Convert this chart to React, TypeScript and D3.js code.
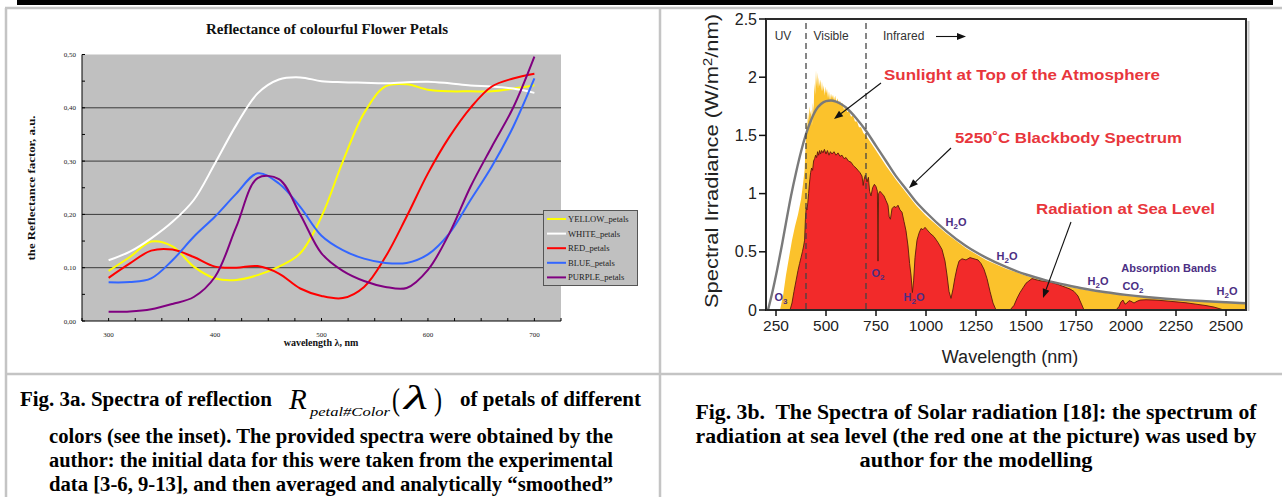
import React from "react";
import * as d3 from "d3";

// ---- Fig. 3a : reflectance of flower petals ----
const petalWavelengths = [300, 320, 340, 360, 380, 400, 420, 440, 460, 480, 500, 520, 540, 560, 580, 600, 620, 640, 660, 680, 700];
const yellowPetals = [0.094, 0.12, 0.149, 0.14, 0.102, 0.08, 0.077, 0.086, 0.102, 0.127, 0.196, 0.299, 0.39, 0.44, 0.444, 0.434, 0.431, 0.431, 0.431, 0.436, 0.4425];
const whitePetals = [0.114, 0.13, 0.155, 0.186, 0.227, 0.296, 0.368, 0.427, 0.453, 0.457, 0.45, 0.448, 0.447, 0.446, 0.448, 0.449, 0.446, 0.442, 0.44, 0.436, 0.428];
const redPetals = [0.081, 0.108, 0.132, 0.134, 0.12, 0.102, 0.1, 0.103, 0.089, 0.061, 0.047, 0.043, 0.064, 0.12, 0.196, 0.277, 0.345, 0.4, 0.44, 0.455, 0.464];
const bluePetals = [0.0725, 0.073, 0.08, 0.114, 0.158, 0.196, 0.239, 0.277, 0.258, 0.214, 0.16, 0.133, 0.117, 0.109, 0.109, 0.125, 0.164, 0.227, 0.29, 0.364, 0.455];
const purplePetals = [0.0175, 0.018, 0.022, 0.032, 0.045, 0.083, 0.177, 0.268, 0.266, 0.2, 0.127, 0.094, 0.075, 0.064, 0.062, 0.096, 0.164, 0.252, 0.327, 0.4, 0.496];
const petalNames = ["YELLOW_petals", "WHITE_petals", "RED_petals", "BLUE_petals", "PURPLE_petals"];
const petalXLabels = [300, 400, 500, 600, 700];
const petalYLabels = [0, 0.1, 0.2, 0.3, 0.4, 0.5];

// ---- Fig. 3b : solar spectrum ----
const toaWavelengths = [270, 285, 300, 315, 330, 345, 360, 375, 385, 393, 398, 402, 406, 410, 414, 418, 422, 426, 430, 434, 438, 442, 446, 450, 453, 456, 460, 464, 468, 472, 476, 480, 484, 488, 492, 496, 500, 505, 510, 515, 520, 525, 530, 535, 540, 546, 552, 558, 564, 570, 576, 582, 590, 598, 606, 615, 625, 635, 645, 655, 665, 675, 687, 700, 750, 800, 850, 900, 950, 1000, 1100, 1200, 1300, 1400, 1500, 1600, 1700, 1800, 1900, 2000, 2100, 2200, 2300, 2400, 2500, 2600];
const toaIrradiance = [0, 0.12, 0.3, 0.45, 0.6, 0.72, 0.82, 0.95, 1.08, 1.2, 1.42, 1.62, 1.55, 1.7, 1.62, 1.75, 1.68, 1.72, 1.58, 1.78, 1.7, 1.95, 1.85, 2.06, 1.92, 2.04, 1.9, 2.0, 1.92, 1.98, 1.88, 1.96, 1.88, 1.93, 1.84, 1.92, 1.86, 1.9, 1.82, 1.88, 1.8, 1.86, 1.82, 1.85, 1.8, 1.84, 1.78, 1.82, 1.77, 1.8, 1.76, 1.78, 1.72, 1.75, 1.7, 1.71, 1.66, 1.67, 1.62, 1.62, 1.57, 1.57, 1.52, 1.5, 1.37, 1.24, 1.12, 1.01, 0.9, 0.81, 0.66, 0.53, 0.43, 0.355, 0.295, 0.245, 0.205, 0.172, 0.145, 0.124, 0.107, 0.093, 0.081, 0.072, 0.063, 0.056];
const bbWavelengths = [210, 230, 255, 280, 300, 325, 350, 375, 400, 425, 450, 475, 500, 525, 550, 575, 600, 650, 700, 750, 800, 850, 900, 950, 1000, 1100, 1200, 1300, 1400, 1500, 1600, 1700, 1800, 1900, 2000, 2100, 2200, 2300, 2400, 2500, 2600];
const bbIrradiance = [0, 0.14, 0.34, 0.56, 0.75, 0.98, 1.18, 1.36, 1.51, 1.63, 1.72, 1.77, 1.795, 1.8, 1.79, 1.77, 1.74, 1.65, 1.54, 1.41, 1.28, 1.15, 1.04, 0.93, 0.84, 0.68, 0.55, 0.45, 0.37, 0.305, 0.255, 0.215, 0.18, 0.152, 0.13, 0.112, 0.097, 0.085, 0.075, 0.066, 0.058];
const seaWavelengths = [320, 330, 340, 350, 360, 368, 375, 382, 388, 393, 397, 401, 405, 409, 413, 418, 423, 428, 433, 438, 443, 448, 453, 458, 463, 468, 473, 478, 485, 492, 500, 507, 515, 522, 530, 540, 550, 560, 570, 580, 590, 600, 612, 625, 637, 650, 660, 670, 680, 686, 690, 697, 705, 712, 718, 725, 733, 742, 750, 757, 760, 763, 770, 780, 790, 800, 810, 816, 822, 830, 840, 850, 860, 870, 880, 890, 900, 910, 918, 925, 932, 938, 945, 955, 965, 975, 985, 995, 1005, 1020, 1040, 1060, 1080, 1095, 1105, 1115, 1125, 1135, 1145, 1155, 1165, 1180, 1200, 1220, 1240, 1260, 1275, 1290, 1305, 1320, 1335, 1350, 1420, 1440, 1455, 1470, 1485, 1500, 1515, 1530, 1550, 1575, 1600, 1630, 1660, 1690, 1720, 1740, 1760, 1775, 1790, 1950, 1965, 1975, 1985, 1995, 2005, 2015, 2025, 2040, 2055, 2070, 2100, 2150, 2200, 2250, 2300, 2350, 2400, 2440, 2470, 2490];
const seaIrradiance = [0, 0.06, 0.16, 0.25, 0.34, 0.4, 0.45, 0.5, 0.55, 0.6, 0.78, 0.88, 0.86, 0.92, 1.0, 1.1, 1.18, 1.22, 1.2, 1.28, 1.3, 1.33, 1.31, 1.36, 1.33, 1.37, 1.34, 1.37, 1.35, 1.38, 1.34, 1.37, 1.33, 1.36, 1.34, 1.36, 1.33, 1.35, 1.32, 1.33, 1.3, 1.31, 1.28, 1.27, 1.24, 1.22, 1.2, 1.18, 1.15, 1.07, 1.12, 1.16, 1.1, 1.14, 1.02, 0.98, 1.05, 1.08, 1.06, 1.02, 0.42, 1.0, 1.02, 1.0, 0.98, 0.94, 0.9, 0.8, 0.78, 0.87, 0.89, 0.88, 0.9, 0.86, 0.84, 0.76, 0.68, 0.55, 0.4, 0.3, 0.15, 0.25, 0.45, 0.6, 0.66, 0.7, 0.69, 0.71, 0.69, 0.66, 0.63, 0.58, 0.52, 0.42, 0.3, 0.16, 0.1, 0.18, 0.28, 0.36, 0.42, 0.44, 0.43, 0.45, 0.44, 0.43, 0.4, 0.35, 0.27, 0.16, 0.06, 0, 0, 0.04, 0.1, 0.15, 0.19, 0.23, 0.25, 0.27, 0.26, 0.25, 0.245, 0.235, 0.22, 0.2, 0.18, 0.16, 0.12, 0.06, 0, 0, 0.03, 0.07, 0.085, 0.05, 0.06, 0.08, 0.075, 0.06, 0.075, 0.085, 0.088, 0.085, 0.078, 0.07, 0.062, 0.05, 0.038, 0.025, 0.01, 0];
const irradianceTicks = [0, 0.5, 1, 1.5, 2, 2.5];
const wavelengthTicks = [250, 500, 750, 1000, 1250, 1500, 1750, 2000, 2250, 2500];
const bandBounds = [400, 700];

const captionLeft = [
  "colors (see the inset). The provided spectra were obtained by the",
  "author: the initial data for this were taken from the experimental",
  "data [3-6, 9-13], and then averaged and analytically \u201csmoothed\u201d",
];
const captionRight = [
  "Fig. 3b.\u00a0 The Spectra of Solar radiation [18]: the spectrum of",
  "radiation at sea level (the red one at the picture) was used by",
  "author for the modelling",
];

const petalColors = ["#ffff00", "#ffffff", "#ff0000", "#3366ff", "#800080"];
const serif = "'Liberation Serif', 'Times New Roman', serif";
const sans = "'Liberation Sans', Arial, sans-serif";
const purpleLabel = "#4b2e83";
const redLabel = "#e8363c";

const Chem = ({ x, y, a, sub, b }) => (
  <text x={x} y={y} fill={purpleLabel} fontFamily={sans} fontWeight="bold" fontSize={11} textAnchor="middle">
    {a}
    <tspan dy={3} fontSize={8}>{sub}</tspan>
    <tspan dy={-3}>{b}</tspan>
  </text>
);

const Arrow = ({ x1, y1, x2, y2 }) => {
  const ang = Math.atan2(y2 - y1, x2 - x1);
  const L = 9, W = 3.5;
  const bx = x2 - L * Math.cos(ang), by = y2 - L * Math.sin(ang);
  const p = `${x2},${y2} ${bx + W * Math.sin(ang)},${by - W * Math.cos(ang)} ${bx - W * Math.sin(ang)},${by + W * Math.cos(ang)}`;
  return (
    <g>
      <line x1={x1} y1={y1} x2={bx} y2={by} stroke="#111" strokeWidth={1.1} />
      <polygon points={p} fill="#111" />
    </g>
  );
};

export default function App() {
  // left chart scales
  const px = d3.scaleLinear().domain([275, 725]).range([82, 561]);
  const py = d3.scaleLinear().domain([0, 0.5]).range([321, 54.5]);
  const petalLine = d3
    .line<number>()
    .x((_, i) => px(petalWavelengths[i]))
    .y((d) => py(d))
    .curve(d3.curveCatmullRom.alpha(0.5));
  const petalSeries = [yellowPetals, whitePetals, redPetals, bluePetals, purplePetals];
  const commaFmt = (v: number) => d3.format(".2f")(v).replace(".", ",");

  // right chart scales
  const sx = d3.scaleLinear().domain([200, 2600]).range([766, 1246]);
  const sy = d3.scaleLinear().domain([0, 2.5]).range([310, 19]);
  const toaArea = d3
    .area<number>()
    .x((_, i) => sx(toaWavelengths[i]))
    .y0(sy(0))
    .y1((d) => sy(d));
  const seaArea = d3
    .area<number>()
    .x((_, i) => sx(seaWavelengths[i]))
    .y0(sy(0))
    .y1((d) => sy(d));
  const seaEdge = d3
    .line<number>()
    .x((_, i) => sx(seaWavelengths[i]))
    .y((d) => sy(d));
  const bbLine = d3
    .line<number>()
    .x((_, i) => sx(bbWavelengths[i]))
    .y((d) => sy(d))
    .curve(d3.curveMonotoneX);

  return (
    <svg width={1282} height={497} style={{ position: "absolute", left: 0, top: 0, background: "#fff" }}>
      {/* table frame */}
      <rect x={17} y={0} width={1256} height={5} fill="#000" />
      <g stroke="#c4c4c4" strokeWidth={2.5}>
        <line x1={5} y1={8} x2={1282} y2={8} />
        <line x1={6} y1={8} x2={6} y2={497} />
        <line x1={660} y1={8} x2={660} y2={497} />
        <line x1={5} y1={374} x2={1282} y2={374} />
      </g>

      {/* ---------- left chart ---------- */}
      <text x={327} y={34} textAnchor="middle" fontFamily={serif} fontWeight="bold" fontSize={14} fill="#111" textLength={242} lengthAdjust="spacingAndGlyphs">
        Reflectance of colourful Flower Petals
      </text>
      <rect x={px(275)} y={py(0.5)} width={px(725) - px(275)} height={py(0) - py(0.5)} fill="#c0c0c0" />
      {petalYLabels.slice(1, 5).map((v) => (
        <line key={v} x1={px(275)} x2={px(725)} y1={py(v)} y2={py(v)} stroke="#3a3a3a" strokeWidth={1} />
      ))}
      <line x1={px(275)} x2={px(275)} y1={py(0.5)} y2={py(0)} stroke="#000" strokeWidth={1} />
      <line x1={px(275)} x2={px(725)} y1={py(0)} y2={py(0)} stroke="#000" strokeWidth={1} />
      {d3.range(0, 0.501, 0.05).map((v) => (
        <line key={v} x1={px(275)} x2={px(275) + 3} y1={py(v)} y2={py(v)} stroke="#000" />
      ))}
      {d3.range(275, 726, 25).map((w) => (
        <line key={w} x1={px(w)} x2={px(w)} y1={py(0)} y2={py(0) - 3} stroke="#000" />
      ))}
      {petalYLabels.map((v) => (
        <text key={v} x={76} y={py(v) + 2.5} textAnchor="end" fontFamily={serif} fontSize={7} fill="#222">
          {commaFmt(v)}
        </text>
      ))}
      {petalXLabels.map((w) => (
        <text key={w} x={px(w)} y={337} textAnchor="middle" fontFamily={serif} fontSize={7} fill="#222">
          {w}
        </text>
      ))}
      <text x={321} y={346} textAnchor="middle" fontFamily={serif} fontWeight="bold" fontSize={10} fill="#111">
        wavelength λ, nm
      </text>
      <text
        transform="translate(35,188) rotate(-90)"
        textAnchor="middle"
        fontFamily={serif}
        fontWeight="bold"
        fontSize={11}
        fill="#111"
        textLength={145}
        lengthAdjust="spacingAndGlyphs"
      >
        the Reflectance factor, a.u.
      </text>
      {petalSeries.map((s, i) => (
        <path key={petalNames[i]} d={petalLine(s) || ""} fill="none" stroke={petalColors[i]} strokeWidth={2} />
      ))}
      {/* legend */}
      <rect x={543.5} y={210.5} width={94} height={75} fill="#c0c0c0" stroke="#555" strokeWidth={1} />
      {petalNames.map((n, i) => (
        <g key={n}>
          <line x1={547} x2={566} y1={219 + i * 14.6} y2={219 + i * 14.6} stroke={petalColors[i]} strokeWidth={2} />
          <text x={568} y={222 + i * 14.6} fontFamily={serif} fontSize={8.6} fill="#222">
            {n}
          </text>
        </g>
      ))}

      {/* ---------- right chart ---------- */}
      <rect x={766} y={19} width={480} height={291} fill="#fff" />
      <path d={toaArea(toaIrradiance) || ""} fill="#fbc22c" />
      <path d={seaArea(seaIrradiance) || ""} fill="#f22a2a" />
      <path d={seaEdge(seaIrradiance) || ""} fill="none" stroke="#5a1a0c" strokeWidth={0.9} />
      <path d={bbLine(bbIrradiance) || ""} fill="none" stroke="#7a7a7a" strokeWidth={2.4} />
      {bandBounds.map((w) => (
        <line key={w} x1={sx(w)} x2={sx(w)} y1={23} y2={sy(0)} stroke="#444" strokeWidth={1.6} strokeDasharray="6,4" opacity={0.8} />
      ))}
      <line x1={1248.5} x2={1248.5} y1={21} y2={311} stroke="#c8c8c8" strokeWidth={2} />
      <rect x={766} y={19} width={480} height={291} fill="none" stroke="#2a2a2a" strokeWidth={2} />
      {irradianceTicks.map((v) => (
        <g key={v}>
          <line x1={759} x2={766} y1={sy(v)} y2={sy(v)} stroke="#111" strokeWidth={1.5} />
          <text x={757} y={sy(v) + 5.5} textAnchor="end" fontFamily={sans} fontSize={16} fill="#222">
            {v}
          </text>
        </g>
      ))}
      {wavelengthTicks.map((w) => (
        <g key={w}>
          <line x1={sx(w)} x2={sx(w)} y1={310} y2={316} stroke="#111" strokeWidth={1.5} />
          <text x={sx(w)} y={331} textAnchor="middle" fontFamily={sans} fontSize={15.5} fill="#222">
            {w}
          </text>
        </g>
      ))}
      <text x={1010} y={363} textAnchor="middle" fontFamily={sans} fontSize={18} fill="#222">
        Wavelength (nm)
      </text>
      <text
        transform="translate(718,161) rotate(-90)"
        textAnchor="middle"
        fontFamily={sans}
        fontSize={18}
        fill="#222"
        textLength={294}
        lengthAdjust="spacingAndGlyphs"
      >
        Spectral Irradiance (W/m<tspan dy={-6} fontSize={12}>2</tspan><tspan dy={6}>/nm)</tspan>
      </text>

      <text x={783} y={40} textAnchor="middle" fontFamily={sans} fontSize={12} fill="#333">UV</text>
      <text x={831} y={40} textAnchor="middle" fontFamily={sans} fontSize={12} fill="#333">Visible</text>
      <text x={883} y={40} fontFamily={sans} fontSize={12} fill="#333">Infrared</text>
      <Arrow x1={936} y1={36.5} x2={966} y2={36.5} />

      <text x={884} y={80} fontFamily={sans} fontWeight="bold" fontSize={15} fill={redLabel} textLength={276} lengthAdjust="spacingAndGlyphs">
        Sunlight at Top of the Atmosphere
      </text>
      <text x={955} y={143} fontFamily={sans} fontWeight="bold" fontSize={15} fill={redLabel} textLength={227} lengthAdjust="spacingAndGlyphs">
        5250˚C Blackbody Spectrum
      </text>
      <text x={1036} y={214} fontFamily={sans} fontWeight="bold" fontSize={15} fill={redLabel} textLength={179} lengthAdjust="spacingAndGlyphs">
        Radiation at Sea Level
      </text>
      <Arrow x1={881} y1={83} x2={834} y2={119} />
      <Arrow x1={951} y1={148} x2={909} y2={188} />
      <Arrow x1={1071} y1={222} x2={1043} y2={298} />

      <Chem x={956} y={226} a="H" sub="2" b="O" />
      <Chem x={1007} y={260} a="H" sub="2" b="O" />
      <Chem x={878} y={277} a="O" sub="2" b="" />
      <Chem x={914} y={301} a="H" sub="2" b="O" />
      <Chem x={781} y={301} a="O" sub="3" b="" />
      <Chem x={1098} y={285} a="H" sub="2" b="O" />
      <Chem x={1133} y={290} a="CO" sub="2" b="" />
      <Chem x={1227} y={295} a="H" sub="2" b="O" />
      <text x={1169} y={272} textAnchor="middle" fill={purpleLabel} fontFamily={sans} fontWeight="bold" fontSize={11}>
        Absorption Bands
      </text>

      {/* ---------- captions ---------- */}
      <g fontFamily={serif} fontWeight="bold" fontSize={20.5} fill="#000">
        <text x={20} y={406} textLength={252} lengthAdjust="spacingAndGlyphs">Fig. 3a. Spectra of reflection</text>
        <text x={289} y={409} fontWeight="normal" fontStyle="italic" fontSize={29}>R</text>
        <text x={310} y={416} fontWeight="normal" fontStyle="italic" fontSize={13} textLength={80} lengthAdjust="spacingAndGlyphs">petal#Color</text>
        <text x={392} y={410} fontWeight="normal" fontSize={32} transform="translate(392,410) scale(0.75,1) translate(-392,-410)">(</text>
        <text x={404} y={409} fontWeight="normal" fontStyle="italic" fontSize={33} textLength={24} lengthAdjust="spacingAndGlyphs">λ</text>
        <text x={434} y={410} fontWeight="normal" fontSize={32} transform="translate(434,410) scale(0.75,1) translate(-434,-410)">)</text>
        <text x={460} y={406} textLength={181} lengthAdjust="spacingAndGlyphs">of petals of different</text>
        {captionLeft.map((t, i) => (
          <text key={i} x={331} y={443 + i * 24} textAnchor="middle" textLength={564} lengthAdjust="spacingAndGlyphs">
            {t}
          </text>
        ))}
        {captionRight.map((t, i) => (
          <text
            key={i}
            x={976}
            y={419 + i * 24}
            textAnchor="middle"
            textLength={i === 2 ? 233 : 561}
            lengthAdjust="spacingAndGlyphs"
          >
            {t}
          </text>
        ))}
      </g>
    </svg>
  );
}
